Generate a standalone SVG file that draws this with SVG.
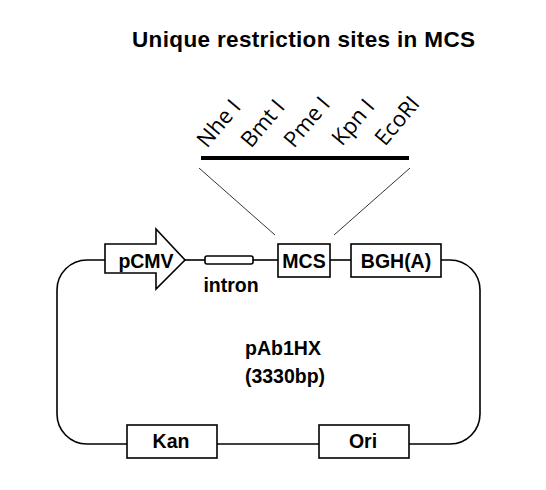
<svg xmlns="http://www.w3.org/2000/svg" width="546" height="490" viewBox="0 0 546 490">
<style>
.box{fill:#fff;stroke:#000;stroke-width:1.6}
.ln{fill:none;stroke:#000;stroke-width:1.6}
.thin{fill:none;stroke:#000;stroke-width:0.8}
.lbl{font-family:"Liberation Sans",Arial,sans-serif;font-weight:bold;font-size:19.5px;text-anchor:middle;fill:#000}
.site{font-family:"Open Sans","Liberation Sans",sans-serif;font-size:22px;fill:#000}
</style>
<rect width="546" height="490" fill="#fff"/>
<text x="132" y="47" font-family="Liberation Sans,Arial,sans-serif" font-weight="bold" font-size="22.5" textLength="343" lengthAdjust="spacing">Unique restriction sites in MCS</text>
<g id="mcs-sites">
<line x1="201" y1="158" x2="409" y2="158" stroke="#000" stroke-width="4"/>
<text class="site" transform="translate(207,149) rotate(-50)">Nhe I</text>
<text class="site" transform="translate(251,149) rotate(-50)">Bmt I</text>
<text class="site" transform="translate(294,149) rotate(-50)">Pme I</text>
<text class="site" transform="translate(342,147) rotate(-50)">Kpn I</text>
<text class="site" transform="translate(385,147) rotate(-50)">EcoRI</text>
</g>
<g id="connectors">
<line class="thin" x1="199" y1="168" x2="275" y2="235"/>
<line class="thin" x1="410" y1="168" x2="334" y2="235"/>
<path class="ln" d="M105,260 H87 A30,30 0 0 0 57,290 V414 A30,30 0 0 0 87,444 H127"/>
<line class="ln" x1="217" y1="444" x2="319" y2="444"/>
<path class="ln" d="M409,444 H450 A30,30 0 0 0 480,414 V290 A30,30 0 0 0 450,260 H441"/>
<line class="ln" x1="185" y1="260" x2="205" y2="260"/>
<line class="ln" x1="253" y1="260" x2="278" y2="260"/>
<line class="ln" x1="330" y1="260" x2="351" y2="260"/>
</g>
<g id="pCMV">
<polygon class="box" points="105,244 156,244 156,229 185,260 156,289 156,273 105,273"/>
<text class="lbl" x="146" y="268">pCMV</text>
</g>
<g id="intron">
<rect class="box" x="205" y="256" width="48" height="8" rx="2"/>
<text class="lbl" x="231" y="292">intron</text>
</g>
<g id="MCS">
<rect class="box" x="278" y="244" width="52" height="33"/>
<text class="lbl" x="304" y="268">MCS</text>
</g>
<g id="BGH">
<rect class="box" x="351" y="244" width="90" height="33"/>
<text class="lbl" x="396" y="268">BGH(A)</text>
</g>
<g id="Kan">
<rect class="box" x="127" y="425" width="90" height="33"/>
<text class="lbl" x="171" y="448">Kan</text>
</g>
<g id="Ori">
<rect class="box" x="319" y="425" width="90" height="33"/>
<text class="lbl" x="363" y="448">Ori</text>
</g>
<g id="plasmid">
<text class="lbl" x="283" y="355" font-size="21">pAb1HX</text>
<text class="lbl" x="285" y="383" font-size="21">(3330bp)</text>
</g>
</svg>
